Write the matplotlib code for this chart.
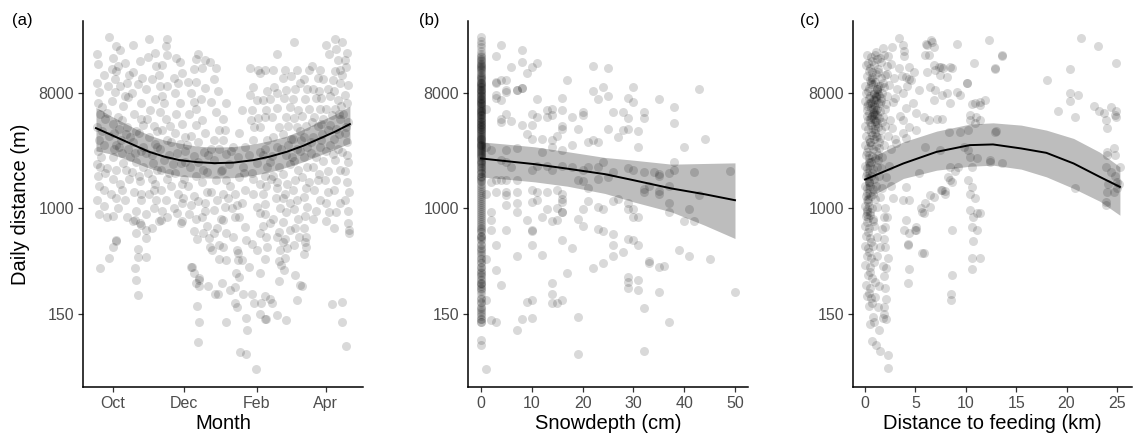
"""Daily distance vs month, snow depth and distance to feeding (three panels)."""

import matplotlib

matplotlib.use("Agg")
import matplotlib.pyplot as plt
import numpy as np
from matplotlib.ticker import NullLocator

plt.rcParams["font.family"] = ["Liberation Sans", "DejaVu Sans"]

# ---- panel (a): day since 1 Oct, daily distance (m)
A_PTS = [
    (-14, 16000), (-13, 13400), (-14, 9600), (-12, 8100), (-13, 6700), (-11, 5500), (-14, 4300),
    (-12, 3400), (-13, 2800), (-14, 2200), (-11, 2100), (-13, 1800), (-12, 1500), (-14, 1150),
    (-12, 900), (-11, 340),
    (-3, 21900), (3, 18700), (0, 15000), (-1, 12300), (3, 11900), (-4, 9000), (2, 8100), (-1, 6900),
    (-5, 5520), (0, 4600), (-3, 3700), (3, 3150), (0, 2500), (-5, 2060), (0, 1700), (-2, 1300),
    (3, 1200), (0, 870), (-5, 860), (0, 500), (3, 560), (-3, 410),
    (6, 17300), (10, 13600), (4, 13000), (12, 9600), (6, 9000), (13, 7400), (9, 6300), (4, 5200),
    (12, 4300), (7, 3400), (13, 2900), (9, 2250), (3, 2000), (14, 1700), (6, 1550), (10, 1150),
    (4, 1000), (12, 850), (3, 550),
    (17, 18800), (23, 14200), (17, 11600), (21, 9300), (16, 7950), (24, 6600), (18, 5500),
    (24, 4950), (20, 4000), (17, 3300), (24, 2800), (20, 2300), (16, 1930), (23, 1620), (18, 1350),
    (24, 1150), (20, 950), (17, 800), (24, 740), (20, 640), (21, 480), (19, 340), (20, 273),
    (21, 210), (21, 415), (28, 415), (19, 805), (23, 760), (28, 673), (28, 590),
    (31, 21000), (30, 15300), (37, 13000), (33, 10300), (28, 8500), (36, 7200), (32, 5900),
    (29, 5000), (35, 4400), (31, 3600), (36, 3200), (28, 2700), (34, 2250), (30, 1870), (36, 1560),
    (31, 1300), (35, 1000), (28, 900), (39, 800), (33, 700),
    (46, 20900), (45, 18700), (46, 15800), (42, 13200), (39, 11000), (46, 9000), (42, 7500),
    (44, 6700), (40, 5700), (45, 5000), (42, 4100), (46, 3400), (40, 2900), (44, 2400), (41, 2000),
    (46, 1700), (41, 1400), (45, 1150), (42, 960), (46, 850), (41, 805),
    (54, 15000), (57, 14000), (59, 11500), (56, 9500), (53, 8000), (57, 6600), (54, 5500),
    (59, 4600), (53, 3850), (57, 3200), (55, 2700), (58, 2250), (53, 1870), (59, 1560), (56, 1300),
    (59, 1100), (55, 910), (59, 800), (58, 760),
    (71, 14700), (69, 12300), (64, 9700), (67, 7900), (69, 6800), (65, 5500), (71, 4500),
    (67, 3700), (63, 3100), (69, 2550), (66, 2100), (71, 1800), (64, 1500), (69, 1250), (67, 1060),
    (65, 900), (71, 820), (69, 660), (72, 570), (67, 350), (71, 258), (69, 310), (68, 345),
    (74, 273), (74, 245), (81, 247), (74, 285),
    (73, 16000), (79, 14500), (76, 12500), (71, 9700), (79, 8700), (75, 7200), (71, 6000),
    (76, 4900), (79, 3900), (73, 3300), (78, 2750), (73, 2300), (80, 1930), (76, 1600), (80, 1330),
    (73, 1130), (79, 960), (76, 850), (80, 720), (77, 640), (82, 590), (83, 500), (85, 470),
    (72, 171), (74, 128), (73, 90),
    (83, 14000), (88, 12500), (86, 10300), (90, 8300), (84, 6800), (88, 5700), (94, 5000),
    (91, 4100), (86, 3400), (91, 2900), (86, 2400), (92, 1950), (88, 1650), (84, 1350), (89, 1150),
    (86, 970), (92, 820), (89, 700), (86, 640), (91, 520), (91, 400), (87, 215), (90, 215),
    (97, 6600), (96, 4080), (94, 3410), (97, 2680), (93, 1985), (97, 1650), (94, 1300), (96, 1020),
    (94, 805), (97, 635), (94, 500), (97, 392), (93, 258), (100, 228), (97, 128), (104, 180),
    (106, 170),
    (104, 1300), (106, 1055), (108, 855), (103, 595), (106, 469), (107, 392), (105, 309),
    (104, 242),
    (117, 7700), (110, 5850), (118, 4890), (108, 3850), (113, 3030), (107, 2530), (111, 2100),
    (108, 1760), (113, 1383), (110, 1090), (104, 855), (113, 710), (114, 562), (107, 443),
    (110, 392), (116, 350), (108, 292), (111, 215), (114, 138), (115, 111), (109, 75), (114, 72),
    (117, 12400), (124, 12000), (120, 8900), (123, 7000), (119, 5850), (124, 5050), (121, 4300),
    (120, 3400), (126, 2760), (123, 2240), (119, 1870), (126, 1560), (120, 1300), (123, 1020),
    (126, 910), (126, 635), (119, 530), (123, 469), (126, 309), (119, 215), (121, 180), (127, 180),
    (126, 150), (122, 55),
    (130, 12000), (126, 11400), (132, 8200), (128, 7000), (131, 5850), (130, 5200), (126, 4300),
    (132, 3400), (130, 2900), (128, 2600), (132, 2100), (130, 1800), (131, 1500), (128, 1300),
    (130, 1080), (130, 900), (134, 760), (128, 720), (131, 600), (132, 500), (130, 400),
    (130, 205), (134, 195), (130, 136), (131, 136),
    (140, 16000), (137, 12100), (138, 8900), (134, 7200), (140, 6100), (136, 5200), (142, 4300),
    (137, 3600), (140, 3000), (136, 2550), (142, 2100), (137, 1780), (140, 1450), (139, 1200),
    (143, 1000), (137, 830), (142, 650), (140, 600), (145, 540), (143, 470), (142, 390),
    (144, 360), (146, 330), (142, 270), (136, 180), (140, 145),
    (155, 20000), (147, 12000), (145, 10500), (148, 8400), (146, 7300), (151, 6200), (148, 5200),
    (150, 4400), (145, 3800), (150, 3100), (148, 2600), (151, 2200), (145, 1850), (149, 1550),
    (147, 1300), (151, 1100), (148, 930), (145, 780), (151, 680), (147, 580), (149, 490),
    (147, 410), (148, 133),
    (157, 12000), (152, 10800), (156, 8600), (154, 7200), (158, 5900), (155, 5100), (157, 4300),
    (154, 3500), (157, 2900), (155, 2350), (158, 2000), (156, 1650), (154, 1380), (157, 1150),
    (155, 980), (158, 820), (156, 700), (159, 600), (155, 520), (156, 300), (160, 250), (162, 245),
    (157, 193),
    (168, 12000), (163, 10300), (166, 8600), (164, 7200), (168, 6000), (162, 5300), (165, 4400),
    (163, 3600), (166, 3000), (163, 2500), (166, 2100), (162, 1750), (165, 1450), (163, 1220),
    (166, 1020), (164, 870), (163, 700), (165, 600), (164, 540), (163, 440), (165, 500),
    (170, 13000), (175, 10500), (171, 8600), (174, 7300), (177, 6000), (172, 5200), (175, 4400),
    (171, 3600), (177, 3000), (174, 2500), (171, 2100), (175, 1650), (172, 1400), (177, 1150),
    (174, 960), (171, 830),
    (182, 19000), (185, 16000), (177, 12000), (180, 10300), (184, 8600), (178, 7300), (182, 6000),
    (180, 5000), (184, 4100), (178, 3400), (182, 2800), (180, 2350), (184, 1950), (181, 1650),
    (184, 1350), (182, 1100), (185, 930), (182, 800),
    (190, 21000), (191, 17500), (192, 14500), (190, 11800), (194, 9500), (189, 8300), (192, 7000),
    (190, 6000), (194, 5000), (191, 4200), (189, 3500), (192, 2900), (190, 2400), (194, 2000),
    (191, 1650), (189, 1400), (194, 1100), (191, 930), (189, 700), (187, 178),
    (196, 20000), (200, 16500), (199, 12800), (196, 11000), (201, 9200), (198, 7700), (200, 6600),
    (197, 5500), (201, 4700), (198, 3900), (200, 3300), (196, 2750), (201, 2300), (198, 1950),
    (200, 1600), (202, 1350), (198, 1150), (201, 950), (201, 760), (202, 670), (202, 640),
    (196, 185), (196, 128), (199, 84),
    # the darker core of the cloud
    (-9, 4000), (-8, 3100), (-10, 2500), (-7, 5000), (-9, 6200), (-7, 1900), (-8, 1400),
    (1, 3900), (5, 3000), (8, 2700), (1, 2900), (5, 4200), (8, 4900), (11, 3800), (11, 2000),
    (15, 3600), (19, 2700), (22, 3900), (26, 3000), (26, 2100), (15, 2500), (22, 1800), (26, 4500),
    (33, 2600), (38, 3000), (33, 1700), (38, 2000), (35, 1400), (38, 4000),
    (48, 2600), (50, 3300), (48, 1900), (51, 2200), (50, 1500), (49, 4400), (62, 2300), (62, 2800),
    (61, 1700), (62, 3600), (77, 2000), (81, 2600), (84, 2900), (99, 2200), (101, 2800),
    (100, 1500), (103, 3000), (116, 2600), (112, 1900), (135, 1700), (134, 2300), (144, 2900),
    (152, 3500), (153, 2500), (160, 2800), (161, 3400), (160, 4000), (169, 3300), (170, 4700),
    (169, 2700), (179, 3800), (178, 4600), (186, 3100), (187, 5400), (186, 4500), (193, 3800),
    (195, 6300), (193, 5500), (199, 4300), (200, 2600), (188, 2650), (176, 1850), (168, 1600),
    (145, 1200), (140, 1600), (120, 1700), (98, 1200), (102, 1000), (79, 1100), (60, 1200),
    (52, 1000), (37, 1150), (24, 1300), (8, 1400), (-8, 1050), (140, 8000), (160, 9500),
    (176, 8200), (186, 7600), (194, 12000), (188, 10000), (198, 14500), (10, 7500), (-8, 11000),
    (14, 11000), (25, 10500), (40, 9000), (52, 10500), (36, 16500), (2, 10300),
]
A_FIT_DAY = [-14.5, -3, 8.5, 20, 31, 44, 57, 72, 87, 103, 120, 134, 148.5, 163, 177, 190, 202.6]
A_FIT = [4234, 3801, 3410, 3060, 2762, 2533, 2378, 2294, 2253, 2274, 2378, 2533, 2762, 3088,
         3516, 3975, 4550]
A_HI = [6150, 5351, 4717, 4157, 3732, 3410, 3231, 3060, 3006, 3033, 3173, 3378, 3665, 4157,
        4803, 5449, 6295]
A_LO = [2812, 2674, 2466, 2253, 2058, 1898, 1782, 1735, 1719, 1735, 1815, 1915, 2096, 2314,
        2602, 2899, 3231]
MONTH_TICKS = [0, 61, 123, 182]
MONTH_LABELS = ["Oct", "Dec", "Feb", "Apr"]

# ---- panel (b): snow depth (cm); B_ZERO are the days with no snow
B_ZERO = [
    21900, 20500, 19300, 18200, 17000, 16000, 15200, 14500, 13800, 13100, 12500, 12000, 11400,
    10900, 10400, 10000, 9600, 9200, 8800, 8400, 8100, 7800, 7500, 7200, 6900, 6600, 6300, 6000,
    5750, 5500, 5250, 5000, 4800, 4600, 4400, 4200, 4000, 3800, 3600, 3450, 3300, 3150, 3000,
    2850, 2700, 2550, 2400, 2250, 2100, 1950, 1800, 1680, 1560, 1450, 1350, 1250, 1160, 1080,
    1000, 930, 870, 810, 750, 700, 650, 600, 560, 520, 480, 445, 410, 380, 350, 320, 300, 280,
    260, 240, 225, 200, 185, 170, 160, 150, 137, 130, 93, 85,
    15500, 14200, 13000, 12200, 11100, 10200, 9500, 9000, 8600, 8200, 7700, 7300, 7000, 6700,
    6400, 6100, 5800, 5600, 5400, 5100, 4900, 4700, 4500, 4300, 4100, 3900, 3700, 3500, 3350,
    3200, 3050, 2900, 2750, 2600, 2450, 2300, 2150, 2000, 1880, 1750, 1620, 1500, 1400, 1300,
    1200, 1120, 1040, 970, 900, 840, 780, 720, 660, 610, 570, 530, 490, 460, 430, 400, 375, 350,
    330, 310, 295, 275, 255, 235, 215, 195, 180, 165, 155, 143, 135, 128,
    14800, 13400, 12700, 11700, 10600, 9800, 9350, 8900, 8450, 7950, 7550, 7100, 6800, 6500,
    6200, 5900, 5650, 5350, 5050, 4750, 4550, 4350, 4150, 3950, 3750, 3550, 3400, 3250, 3100,
    2950, 2800, 2650, 2500, 2350, 2200, 2050, 1900, 1770, 1640, 690, 610, 260, 245,
]
B_PTS = [
    (4, 19000), (3, 15600), (8, 17300), (8, 14000), (9, 11350), (10, 12700), (11, 13600),
    (6, 12800), (3, 9580), (4, 10050), (5, 10050), (3, 7230), (5, 8390), (7, 8390), (8, 8650),
    (3, 9800), (7, 8400), (8, 8700), (3, 7700), (4, 7000), (5, 8150),
    (22, 12900), (25, 12400), (17, 10000), (22, 8300), (24, 8900), (30, 8900), (43, 8500),
    (23, 7200), (25, 7500), (29, 7230), (30, 6750), (35, 7100), (11, 7200), (14, 6000), (16, 7230),
    (13, 5850), (13, 5180), (14, 5350), (16, 5850), (16, 4380), (18, 5180), (20, 5670), (20, 5350),
    (26, 5670), (28, 5670), (29, 5100), (32, 5670), (32, 5100), (38, 6200),
    (10, 5500), (11, 5180), (10, 4450), (8, 4450), (9, 3800), (5, 5500), (4, 4700), (6, 4800),
    (4, 5000), (16, 4200), (19, 4150), (21, 3300), (22, 3410), (23, 3300), (25, 4150),
    (27, 3600), (28, 4080), (29, 4200), (31, 4000), (31, 3000), (38, 4650), (44, 3500), (40, 3000),
    (10, 3500), (12, 3450), (14, 3410), (15, 3700), (2, 2845), (5, 2845), (7, 2950),
    (12, 2750), (14, 3000), (16, 2845), (18, 3150), (4, 2400), (5, 2300), (6, 2100),
    (10, 1985), (11, 2150), (13, 2150), (14, 1985), (16, 2150), (18, 2100), (20, 1985),
    (21, 2100), (23, 2100), (24, 2280), (26, 1920), (29, 2050), (30, 1985), (32, 1930),
    (34, 1920), (35, 1800), (37, 1900), (38, 1985), (38, 2300), (42, 1920), (49, 1950),
    (2, 1600), (3, 1650), (4, 1650), (5, 1650), (7, 1660), (3, 1330), (5, 1330), (5, 1270),
    (7, 1330), (10, 1383), (11, 1350), (13, 1330), (15, 1383), (16, 1290), (19, 1660),
    (20, 1620), (21, 1450), (23, 1700), (25, 1740), (32, 1420), (32, 1330), (33, 1480),
    (35, 1360), (37, 1480), (35, 1860), (5, 1060), (7, 1090), (10, 1120), (11, 1155), (16, 1180),
    (16, 1120), (13, 980), (15, 1000), (16, 930), (20, 980), (21, 1130), (23, 1030), (24, 980),
    (26, 1130), (27, 1180), (29, 1090), (29, 980), (30, 980), (31, 860), (30, 860),
    (35, 1290), (37, 930), (37, 1090), (40, 790), (41, 980), (42, 790), (43, 1260),
    (2, 930), (2, 805), (2, 673), (5, 673), (7, 930), (9, 805), (10, 660), (10, 673),
    (12, 860), (14, 790), (15, 805), (16, 930), (19, 830), (20, 720), (16, 562), (18, 490),
    (23, 690), (24, 660), (26, 630), (26, 520), (28, 455), (29, 580), (30, 562), (31, 520),
    (10, 520), (3, 520), (3, 327), (7, 420), (12, 430), (22, 340), (24, 370), (26, 420),
    (29, 290), (31, 273), (33, 390), (33, 370), (35, 350), (39, 469), (41, 420), (45, 400),
    (4, 250), (9, 185), (10, 190), (14, 258), (14, 215), (14, 180), (15, 180), (16, 190),
    (17, 310), (29, 265), (29, 240), (31, 228), (32, 165), (35, 222), (36, 355),
    (2, 133), (3, 130), (8, 135), (10, 138), (7, 111), (19, 140), (37, 128), (32, 77), (19, 73),
    (50, 222), (1, 55), (1, 190), (1, 400), (1, 1300), (1, 3000), (1, 6000),
]
B_FIT_CM = [0, 5, 10.6, 17, 24.4, 30, 37.5, 44, 50]
B_FIT = [2452, 2335, 2212, 2040, 1848, 1658, 1428, 1288, 1156]
B_HI = [3307, 3173, 3022, 2772, 2496, 2378, 2212, 2240, 2265]
B_LO = [1760, 1688, 1608, 1488, 1305, 1122, 936, 737, 580]

# ---- panel (c): distance to feeding (km)
C_PTS = [
    (0.2, 15900), (0.6, 15300), (1.0, 15700), (1.5, 15100), (1.9, 15800), (2.3, 15400),
    (1.8, 17800), (2.7, 18300), (1.1, 16800),
    (0.1, 13100), (0.5, 12500), (0.9, 13300), (1.3, 12200), (2.2, 12900), (2.6, 13400),
    (3.4, 12600), (0.7, 14200), (1.6, 14000),
    (0.2, 10900), (0.7, 10300), (1.1, 11200), (1.6, 10500), (2.0, 11000), (2.9, 10400),
    (3.7, 10800), (4.4, 10200), (0.4, 11800), (1.3, 11600),
    (0.0, 9100), (0.4, 8700), (0.8, 9300), (1.2, 8600), (1.5, 9000), (1.9, 8800), (2.4, 9200),
    (3.2, 8500), (4.2, 9000), (0.6, 9800), (1.0, 9700),
    (0.1, 7900), (0.5, 7500), (0.9, 7800), (1.1, 7400), (1.4, 7700), (1.7, 8000), (2.2, 7600),
    (3.0, 7300), (3.8, 7900), (0.3, 8300), (1.2, 8200),
    (0.0, 6900), (0.3, 6500), (0.6, 6800), (0.9, 6400), (1.1, 7000), (1.3, 6600), (1.6, 6900),
    (2.1, 6500), (2.8, 6800), (0.8, 7200), (1.0, 6200),
    (0.2, 5900), (0.6, 6100), (0.9, 5700), (1.2, 6000), (1.5, 5800), (0.4, 5600), (1.0, 5500),
    (0.2, 5300), (0.5, 5000), (0.7, 5250), (0.9, 4950), (1.2, 5350), (1.4, 5100), (1.8, 5200),
    (2.5, 4900), (3.5, 5300), (0.8, 5600), (1.1, 4800),
    (0.0, 4400), (0.3, 4200), (0.6, 4450), (0.8, 4150), (1.0, 4500), (1.3, 4300), (1.6, 4100),
    (2.0, 4400), (2.7, 4250), (0.5, 4700), (1.2, 4650),
    (0.1, 3700), (0.4, 3500), (0.7, 3750), (0.9, 3450), (1.1, 3650), (1.5, 3550), (2.3, 3700),
    (3.0, 3500), (0.6, 3950), (1.0, 3900),
    (0.0, 3100), (0.3, 2950), (0.6, 3150), (0.8, 2900), (1.1, 3050), (1.4, 2980), (1.9, 3120),
    (2.6, 2900), (0.5, 3300),
    (0.1, 2600), (0.4, 2450), (0.7, 2580), (1.0, 2480), (1.3, 2620), (1.7, 2500), (0.2, 2750),
    (0.0, 2150), (0.2, 2050), (0.5, 2180), (0.8, 2020), (1.2, 2120), (1.6, 2080), (2.4, 2150),
    (0.4, 2300),
    (0.1, 1800), (0.3, 1720), (0.6, 1790), (0.9, 1700), (1.4, 1780), (2.1, 1740), (0.2, 1900),
    (0.0, 1500), (0.2, 1440), (0.5, 1490), (0.8, 1420), (1.1, 1480), (1.7, 1450), (2.6, 1500),
    (0.4, 1600),
    (0.1, 1250), (0.3, 1190), (0.6, 1240), (1.0, 1180), (1.5, 1220), (2.8, 1200), (0.2, 1320),
    (0.0, 1050), (0.2, 990), (0.4, 1040), (0.7, 1000), (1.2, 1030), (2.0, 1010), (0.3, 1110),
    (0.5, 930),
    (0.1, 870), (0.3, 840), (0.5, 880), (0.8, 830), (1.9, 860), (2.2, 850), (0.2, 950),
    (0.0, 730), (0.4, 700), (0.9, 720), (1.7, 690), (2.0, 710), (0.2, 780),
    (0.1, 610), (0.5, 590), (1.2, 600), (1.9, 580), (0.3, 650),
    (0.0, 510), (0.3, 490), (0.8, 505), (1.5, 495), (2.0, 500), (0.6, 540),
    (0.2, 425), (0.6, 405), (1.2, 420), (2.3, 410), (0.4, 455),
    (0.0, 360), (0.5, 345), (1.8, 355), (2.1, 340), (0.9, 380),
    (0.3, 300), (0.7, 285), (1.9, 295), (0.5, 320),
    (0.1, 250), (0.5, 238), (1.4, 245), (2.0, 240), (1.0, 265),
    (0.2, 205), (0.6, 198), (1.0, 202), (2.1, 196), (0.4, 218),
    (0.4, 172), (1.3, 168), (1.9, 170), (0.7, 182),
    (0.8, 142), (1.8, 138), (1.9, 150), (0.5, 125), (1.4, 111), (0.9, 128), (2.1, 137),
    (0.7, 91), (1.1, 85), (1.5, 77), (2.25, 71), (2.25, 56),
    # the darker core near the feeding site
    (0.35, 7300), (0.75, 6000), (1.15, 8600), (0.55, 9300), (0.95, 4200), (0.45, 3300),
    (0.85, 5400), (1.25, 7800), (0.65, 10600), (0.25, 4900), (1.05, 2800), (0.15, 6300),
    (1.45, 6600), (0.7, 11700), (0.3, 13700), (1.2, 14600), (0.6, 2300), (1.35, 3300),
    (0.9, 8000), (0.5, 6700), (1.6, 7300), (1.1, 5900), (0.4, 1600), (0.8, 1300), (0.2, 1150),
    (1.0, 4800), (0.7, 6500), (1.3, 9100), (0.45, 10000), (0.85, 7000), (1.05, 7500),
    (0.55, 5200), (1.15, 3600), (0.35, 2600), (0.65, 1900), (1.25, 2400), (0.15, 900),
    (0.75, 800), (1.7, 4700), (2.0, 6000), (1.75, 9500), (2.2, 11200),
    (3.4, 21300), (3.8, 18900), (3.9, 16900), (6.1, 18900), (6.6, 20000), (6.8, 18400),
    (5.9, 15800), (9.1, 19200), (12.3, 20700), (3.9, 15400), (6.0, 19200), (6.5, 20700),
    (6.3, 15800), (6.1, 11600), (6.9, 12050), (7.5, 12800), (8.6, 12400), (10.8, 13600),
    (13.6, 15400), (12.9, 12400),
    (4.4, 12800), (4.9, 11600), (4.6, 10050), (4.1, 10700), (6.8, 13200), (7.3, 12800),
    (7.7, 12400), (8.4, 12800), (7.4, 11000), (8.1, 10700),
    (6.4, 8900), (6.9, 8400), (7.6, 7670), (8.1, 7950), (6.8, 7010), (8.4, 6600), (9.1, 8150),
    (9.4, 7670), (10.1, 9470), (10.9, 6600), (11.4, 6800), (11.9, 7010), (10.1, 9580),
    (11.4, 6400), (10.6, 6530), (10.4, 5350), (11.0, 5180),
    (5.4, 8390), (4.8, 6600), (5.1, 5600), (4.1, 6100), (3.8, 4890), (4.4, 4320), (3.8, 3850),
    (5.1, 4080), (5.8, 5180), (6.3, 4890), (7.1, 5000), (7.6, 5000),
    (3.1, 3210), (4.1, 3520), (5.9, 3030), (7.4, 2845), (8.3, 3960), (9.4, 3960), (9.8, 3030),
    (8.2, 1760), (8.4, 1656), (8.4, 2100), (8.9, 1950), (9.2, 2100), (7.9, 1360), (8.6, 1600),
    (7.5, 1383),
    (5.4, 1870), (4.1, 1469), (3.8, 1155), (4.4, 1155), (5.9, 1090), (6.4, 1263), (7.6, 1383),
    (7.9, 1300), (6.8, 1230),
    (5.6, 1000), (5.8, 910), (6.4, 1020), (4.1, 805), (3.9, 673), (4.4, 635), (5.1, 673),
    (4.3, 530), (5.0, 673), (5.1, 710), (5.7, 940),
    (5.8, 443), (4.4, 335), (4.3, 258), (5.7, 445), (4.3, 520),
    (8.6, 673), (8.6, 299), (8.5, 215), (8.5, 190),
    (10.2, 1656), (10.6, 1469), (10.4, 1300), (10.9, 1200), (10.4, 964), (10.7, 855),
    (11.1, 910), (11.4, 910), (10.6, 710), (11.1, 673), (10.7, 550), (10.6, 405), (11.4, 405),
    (10.6, 335),
    (10.4, 2530), (10.6, 2100), (11.1, 2460), (10.2, 2845),
    (10.4, 4890), (10.9, 4620), (11.4, 4890), (10.2, 4080),
    (13.6, 15800), (12.9, 12200), (12.4, 2375), (13.6, 2240), (13.0, 4000), (12.9, 3960),
    (12.4, 2300),
    (21.4, 21300), (23.1, 18500), (24.9, 13600), (20.3, 12200), (18.1, 10100),
    (20.3, 8000), (20.3, 6900), (21.1, 7700), (19.2, 5790), (20.8, 5180),
    (22.7, 6250), (23.2, 5790), (23.7, 5600), (24.4, 6150), (24.9, 5790), (24.9, 5130),
    (23.9, 4890), (24.0, 4230), (24.8, 5350),
    (24.0, 2750), (24.7, 2970), (24.0, 2600), (24.8, 2600), (25.3, 2100), (23.9, 2100),
    (24.4, 1920), (24.8, 1780), (25.0, 1600), (24.1, 1560), (25.2, 1560), (24.0, 1340),
    (24.7, 1340), (25.0, 1430), (23.9, 1120), (23.9, 1055), (20.8, 1430),
]
C_FIT_KM = [0, 3.8, 7.1, 10.4, 12.7, 15.5, 18, 20.7, 23.3, 25.3]
C_FIT = [1679, 2241, 2762, 3117, 3156, 2936, 2713, 2241, 1760, 1469]
C_HI = [2378, 3307, 4010, 4550, 4658, 4469, 4084, 3516, 2745, 2107]
C_LO = [1165, 1710, 1985, 2130, 2173, 2022, 1760, 1428, 1135, 882]

Y_TICKS = [150, 1000, 8000]
W, H = 1140, 437


def _style(ax):
    for side in ("top", "right"):
        ax.spines[side].set_visible(False)
    for side in ("left", "bottom"):
        ax.spines[side].set_linewidth(1.1)
        ax.spines[side].set_color("black")
    ax.set_yscale("log")
    ax.set_ylim(40, 29300)
    ax.set_yticks(Y_TICKS)
    ax.set_yticklabels([str(v) for v in Y_TICKS])
    ax.yaxis.set_minor_locator(NullLocator())
    ax.tick_params(direction="out", length=3.5, width=0.9, color="#333333",
                   labelcolor="#4d4d4d", labelsize=11.5, pad=3)


def _panel(ax, x, y, fx, fit, lo, hi):
    ax.scatter(x, y, s=42, c="black", alpha=0.15, linewidths=0, zorder=2)
    ax.fill_between(fx, lo, hi, color="black", alpha=0.26, linewidth=0, zorder=3)
    ax.plot(fx, fit, color="black", lw=1.4, zorder=4)


def main():
    fig = plt.figure(figsize=(W / 100, H / 100), dpi=100)
    bottom, top = 1 - 387 / H, 1 - 20.7 / H
    rects = [(83, 363), (468, 748), (853, 1132)]
    axes = [fig.add_axes([l / W, bottom, (r - l) / W, top - bottom]) for l, r in rects]

    a = np.array(A_PTS, dtype=float)
    _panel(axes[0], a[:, 0], a[:, 1], A_FIT_DAY, A_FIT, A_LO, A_HI)
    axes[0].set_xlim(-25.6, 213.8)
    axes[0].set_xticks(MONTH_TICKS)
    axes[0].set_xticklabels(MONTH_LABELS)
    axes[0].set_xlabel("Month", fontsize=14.5, labelpad=2)
    axes[0].set_ylabel("Daily distance (m)", fontsize=14.5, labelpad=6)

    b = np.array(B_PTS, dtype=float)
    bx = np.concatenate([np.zeros(len(B_ZERO)), b[:, 0]])
    by = np.concatenate([np.array(B_ZERO, dtype=float), b[:, 1]])
    _panel(axes[1], bx, by, B_FIT_CM, B_FIT, B_LO, B_HI)
    axes[1].set_xlim(-2.56, 52.56)
    axes[1].set_xticks([0, 10, 20, 30, 40, 50])
    axes[1].set_xlabel("Snowdepth (cm)", fontsize=14.5, labelpad=2)

    c = np.array(C_PTS, dtype=float)
    _panel(axes[2], c[:, 0], c[:, 1], C_FIT_KM, C_FIT, C_LO, C_HI)
    axes[2].set_xlim(-1.2, 26.5)
    axes[2].set_xticks([0, 5, 10, 15, 20, 25])
    axes[2].set_xlabel("Distance to feeding (km)", fontsize=14.5, labelpad=2)

    for ax in axes:
        _style(ax)

    for lab, xp in (("(a)", 12), ("(b)", 419), ("(c)", 800)):
        fig.text(xp / W, 1 - 20 / H, lab, fontsize=12, va="center", ha="left")

    fig.savefig("out.png", dpi=100)
    plt.close(fig)


if __name__ == "__main__":
    main()
